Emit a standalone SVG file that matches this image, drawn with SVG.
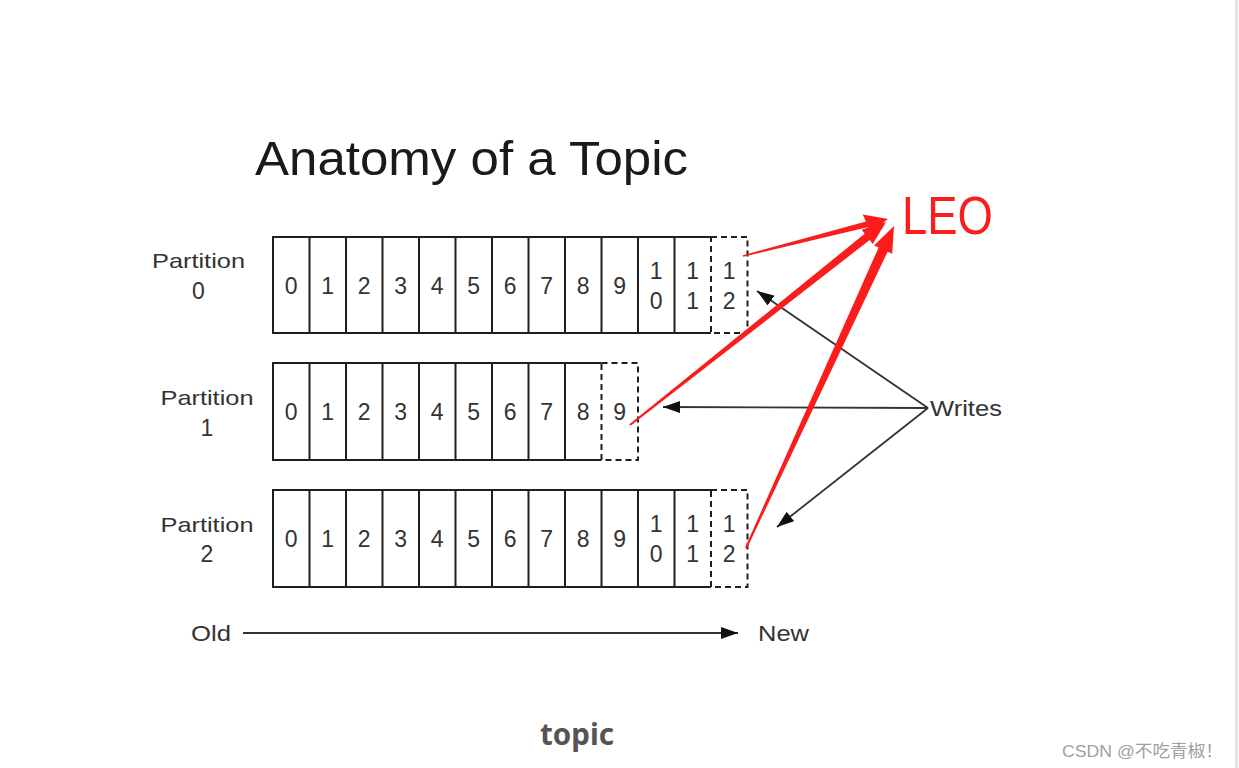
<svg xmlns="http://www.w3.org/2000/svg" width="1239" height="768" viewBox="0 0 1239 768">
<style>
.bg{fill:#fff}
.solid{fill:none;stroke:#1e1e1e;stroke-width:2}
.dash{fill:none;stroke:#1e1e1e;stroke-width:2;stroke-dasharray:6 4}
.d{font-family:"Liberation Sans",Arial,sans-serif;font-size:23px;fill:#333;text-anchor:middle}
.lbl{font-family:"Liberation Sans",Arial,sans-serif;font-size:21px;fill:#333;text-anchor:middle}
.num{font-family:"Liberation Sans",Arial,sans-serif;font-size:23px;fill:#333;text-anchor:middle}
.wl{stroke:#333;stroke-width:1.8;fill:none}
.red{fill:#fb1c1c}
</style>
<defs>
<marker id="ah" markerUnits="userSpaceOnUse" markerWidth="17" markerHeight="12" viewBox="0 0 17 12" refX="17" refY="6" orient="auto">
<path d="M0,0 L17,6 L0,12 z" fill="#111"/>
</marker>
</defs>
<rect class="bg" x="0" y="0" width="1239" height="768"/>
<rect x="1235" y="0" width="3" height="768" fill="#e4e4e4"/>

<text id="title" x="255" y="175" font-family="'Liberation Sans',Arial,sans-serif" font-size="49" fill="#1a1a1a" textLength="433" lengthAdjust="spacingAndGlyphs">Anatomy of a Topic</text>

<g id="partition0">
<text class="lbl" x="198.5" y="268" textLength="93" lengthAdjust="spacingAndGlyphs">Partition</text>
<text class="num" x="198.5" y="299">0</text>
<path class="solid" d="M711,237 H273 V333 H711 M309.5,237 V333 M346,237 V333 M382.5,237 V333 M419,237 V333 M455.5,237 V333 M492,237 V333 M528.5,237 V333 M565,237 V333 M601.5,237 V333 M638,237 V333 M674.5,237 V333"/>
<rect class="dash" x="711" y="237" width="36.5" height="96"/>
<text class="d" x="291.25" y="294">0</text>
<text class="d" x="327.75" y="294">1</text>
<text class="d" x="364.25" y="294">2</text>
<text class="d" x="400.75" y="294">3</text>
<text class="d" x="437.25" y="294">4</text>
<text class="d" x="473.75" y="294">5</text>
<text class="d" x="510.25" y="294">6</text>
<text class="d" x="546.75" y="294">7</text>
<text class="d" x="583.25" y="294">8</text>
<text class="d" x="619.75" y="294">9</text>
<text class="d" x="656.25" y="279">1</text><text class="d" x="656.25" y="309">0</text>
<text class="d" x="692.75" y="279">1</text><text class="d" x="692.75" y="309">1</text>
<text class="d" x="729.25" y="279">1</text><text class="d" x="729.25" y="309">2</text>
</g>

<g id="partition1">
<text class="lbl" x="207" y="405" textLength="93" lengthAdjust="spacingAndGlyphs">Partition</text>
<text class="num" x="207" y="436">1</text>
<path class="solid" d="M601.5,363 H273 V460 H601.5 M309.5,363 V460 M346,363 V460 M382.5,363 V460 M419,363 V460 M455.5,363 V460 M492,363 V460 M528.5,363 V460 M565,363 V460"/>
<rect class="dash" x="601.5" y="363" width="36.5" height="97"/>
<text class="d" x="291.25" y="420">0</text>
<text class="d" x="327.75" y="420">1</text>
<text class="d" x="364.25" y="420">2</text>
<text class="d" x="400.75" y="420">3</text>
<text class="d" x="437.25" y="420">4</text>
<text class="d" x="473.75" y="420">5</text>
<text class="d" x="510.25" y="420">6</text>
<text class="d" x="546.75" y="420">7</text>
<text class="d" x="583.25" y="420">8</text>
<text class="d" x="619.75" y="420">9</text>
</g>

<g id="partition2">
<text class="lbl" x="207" y="532" textLength="93" lengthAdjust="spacingAndGlyphs">Partition</text>
<text class="num" x="207" y="562">2</text>
<path class="solid" d="M711,490 H273 V587 H711 M309.5,490 V587 M346,490 V587 M382.5,490 V587 M419,490 V587 M455.5,490 V587 M492,490 V587 M528.5,490 V587 M565,490 V587 M601.5,490 V587 M638,490 V587 M674.5,490 V587"/>
<rect class="dash" x="711" y="490" width="36.5" height="97"/>
<text class="d" x="291.25" y="547">0</text>
<text class="d" x="327.75" y="547">1</text>
<text class="d" x="364.25" y="547">2</text>
<text class="d" x="400.75" y="547">3</text>
<text class="d" x="437.25" y="547">4</text>
<text class="d" x="473.75" y="547">5</text>
<text class="d" x="510.25" y="547">6</text>
<text class="d" x="546.75" y="547">7</text>
<text class="d" x="583.25" y="547">8</text>
<text class="d" x="619.75" y="547">9</text>
<text class="d" x="656.25" y="532">1</text><text class="d" x="656.25" y="562">0</text>
<text class="d" x="692.75" y="532">1</text><text class="d" x="692.75" y="562">1</text>
<text class="d" x="729.25" y="532">1</text><text class="d" x="729.25" y="562">2</text>
</g>

<g id="writes">
<text x="930" y="416" font-family="'Liberation Sans',Arial,sans-serif" font-size="22" fill="#333" textLength="72" lengthAdjust="spacingAndGlyphs">Writes</text>
</g>

<g id="timeline">
<text x="191" y="641" font-family="'Liberation Sans',Arial,sans-serif" font-size="22" fill="#333" textLength="40" lengthAdjust="spacingAndGlyphs">Old</text>
<text x="758" y="641" font-family="'Liberation Sans',Arial,sans-serif" font-size="22" fill="#333" textLength="51" lengthAdjust="spacingAndGlyphs">New</text>
</g>

<g id="connectors">
<line class="wl" x1="928" y1="408" x2="757" y2="291" marker-end="url(#ah)"/>
<line class="wl" x1="928" y1="408" x2="663" y2="407" marker-end="url(#ah)" stroke-width="2.4"/>
<line class="wl" x1="928" y1="408" x2="777" y2="527" marker-end="url(#ah)"/>
<line class="wl" x1="243" y1="633" x2="738" y2="633" marker-end="url(#ah)"/>
</g>

<g id="leo">
<text x="902" y="234" font-family="'Liberation Sans',Arial,sans-serif" font-size="53" fill="#fb1c1c" textLength="91" lengthAdjust="spacingAndGlyphs">LEO</text>
<polygon class="red" points="742.8,255.2 866.0,221.5 862.7,214.6 888,219 869.7,233.2 867.4,227.3 743.2,256.8"/>
<polygon class="red" points="629.4,424.2 864.7,233.8 861.6,229.8 886,222 872.8,244.0 869.7,240.0 630.6,425.8"/>
<polygon class="red" points="745.1,547.6 878.6,247.5 874.0,245.4 894,226 892.2,253.8 887.6,251.7 746.9,548.4"/>
</g>

<text id="caption" x="540" y="745" font-family="'Noto Sans','DejaVu Sans',sans-serif" font-size="30" font-weight="bold" fill="#555" textLength="74" lengthAdjust="spacingAndGlyphs">topic</text>
<text id="watermark" x="1062" y="757" font-family="'Liberation Sans','Noto Sans CJK SC',sans-serif" font-size="17" fill="#a0a0a0" textLength="161" lengthAdjust="spacingAndGlyphs">CSDN @不吃青椒！</text>
</svg>
